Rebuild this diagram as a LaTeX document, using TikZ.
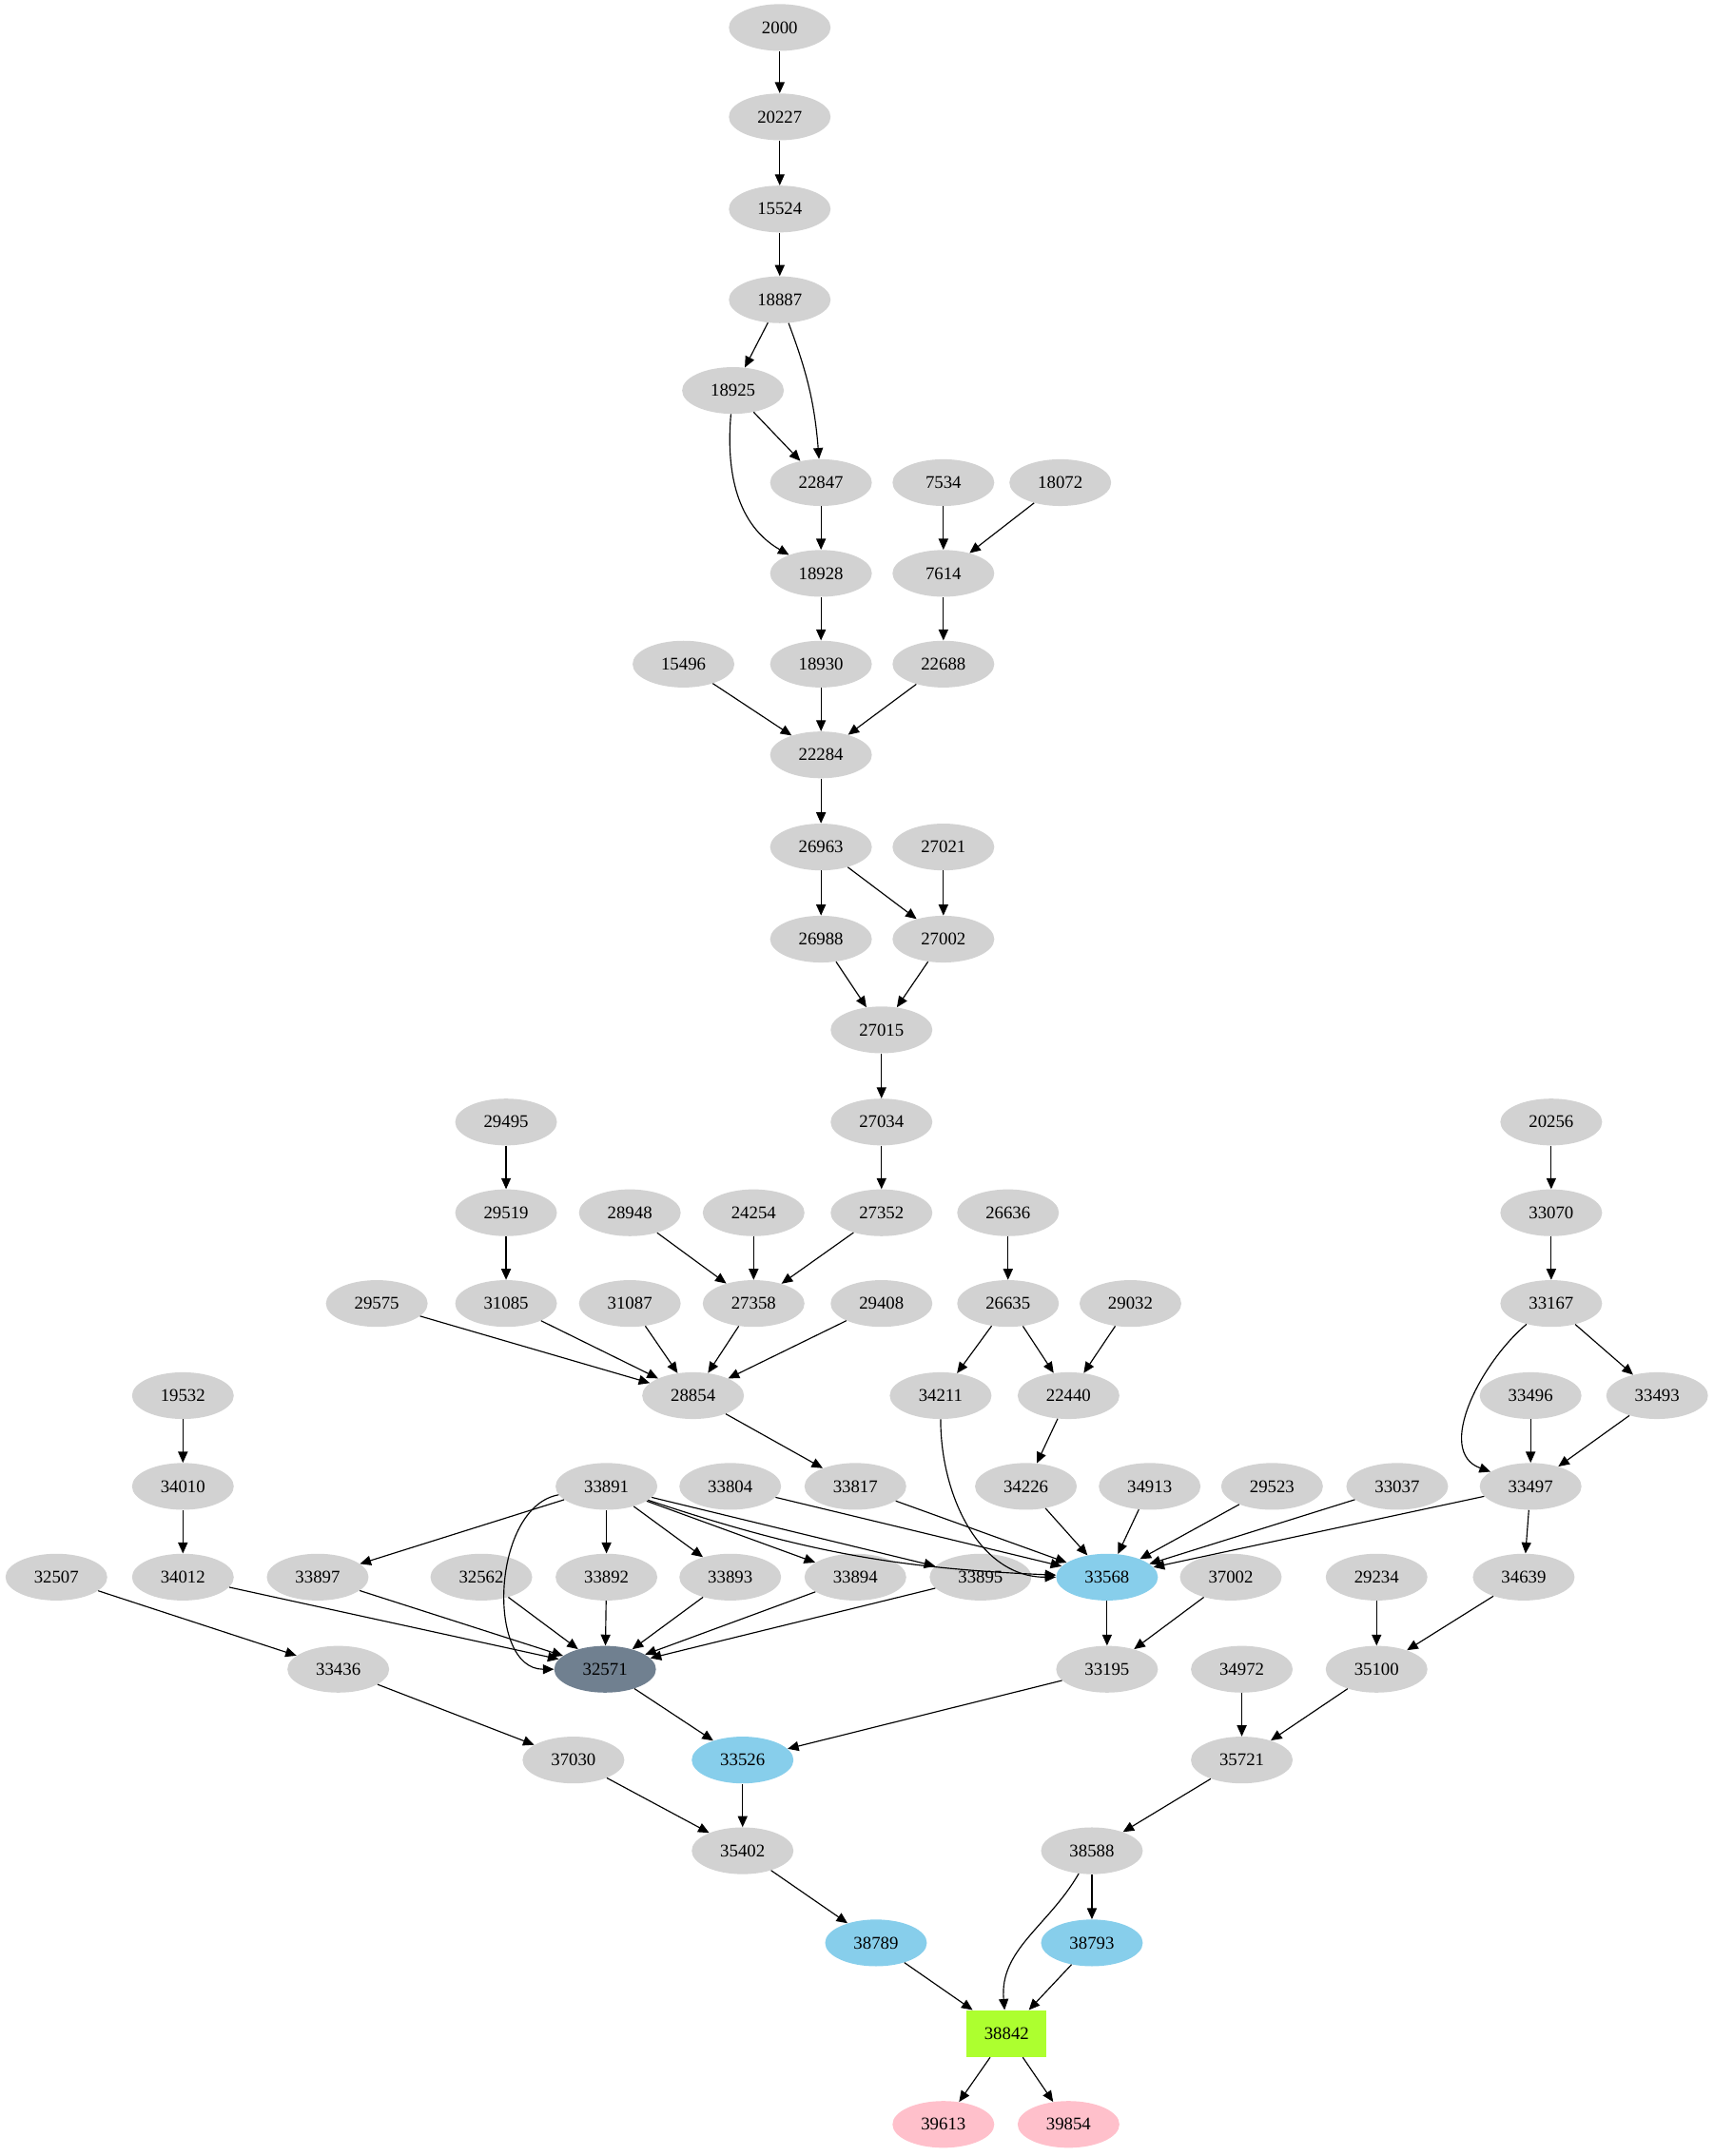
\documentclass[tikz,border=0pt]{standalone}
\usepackage{fontspec}
\setmainfont{Liberation Serif}
\usetikzlibrary{shapes.geometric,arrows.meta}

\begin{document}
\begin{tikzpicture}[
    x=1pt, y=-1pt,
    gnode/.style={ellipse, fill=gray!35, minimum width=74pt, minimum height=34pt, inner sep=0pt, font=\fontsize{13}{13}\selectfont},
    blue/.style={gnode, fill=cyan!45!blue!25!white, fill={rgb,255:red,135;green,206;blue,235}},
    dark/.style={gnode, fill={rgb,255:red,112;green,128;blue,144}},
    pinky/.style={gnode, fill={rgb,255:red,255;green,192;blue,203}},
    target/.style={rectangle, fill={rgb,255:red,173;green,255;blue,47}, minimum width=58pt, minimum height=34pt, inner sep=0pt, font=\fontsize{13}{13}\selectfont},
    arrow/.style={-{Triangle[length=8pt,width=7pt]}, thick, line width=0.8pt}
]
\useasboundingbox (0,0) rectangle (1246,1568);

% plain nodes
\foreach \n/\x/\y in {2000/567/20, 20227/567/85, 15524/567/152, 18887/567/218, 18925/533/284,
    22847/597/351, 7534/686/351, 18072/771/351, 18928/597/417, 7614/686/417,
    15496/497/483, 18930/597/483, 22688/686/483, 22284/597/549, 26963/597/616,
    27021/686/616, 26988/597/683, 27002/686/683, 27015/641/749, 27034/641/816,
    29495/368/816, 20256/1128/816, 29519/368/882, 28948/458/882, 24254/548/882,
    27352/641/882, 26636/733/882, 33070/1128/882, 29575/274/948, 31085/368/948,
    31087/458/948, 27358/548/948, 29408/641/948, 26635/733/948, 29032/822/948,
    33167/1128/948, 19532/133/1015, 28854/504/1015, 34211/684/1015, 22440/777/1015,
    33496/1113/1015, 33493/1205/1015, 34010/133/1081, 33891/441/1081, 33804/531/1081,
    33817/622/1081, 34226/746/1081, 34913/836/1081, 29523/925/1081, 33037/1016/1081,
    33497/1113/1081, 32507/41/1147, 34012/133/1147, 33897/231/1147, 32562/350/1147,
    33892/441/1147, 33893/531/1147, 33894/622/1147, 33895/713/1147, 37002/895/1147,
    29234/1001/1147, 34639/1108/1147, 33436/246/1214, 33195/805/1214, 34972/903/1214,
    35100/1001/1214, 37030/417/1280, 35721/903/1280, 35402/540/1346, 38588/794/1346}
  \node[gnode] (n\n) at (\x,\y) {\n};

% highlighted nodes
\node[blue] (n33568) at (805,1147) {33568};
\node[dark] (n32571) at (440,1214) {32571};
\node[blue] (n33526) at (540,1280) {33526};
\node[blue] (n38789) at (637,1413) {38789};
\node[blue] (n38793) at (794,1413) {38793};
\node[target] (n38842) at (732,1479) {38842};
\node[pinky] (n39613) at (686,1545) {39613};
\node[pinky] (n39854) at (777,1545) {39854};

% straight edges
\foreach \a/\b in {2000/20227, 20227/15524, 15524/18887, 18887/18925, 18925/22847, 22847/18928,
    7534/7614, 18072/7614, 18928/18930, 7614/22688, 15496/22284, 18930/22284, 22688/22284,
    22284/26963, 26963/26988, 26963/27002, 27021/27002, 26988/27015, 27002/27015,
    27015/27034, 27034/27352, 29495/29519, 29519/31085, 28948/27358, 24254/27358,
    27352/27358, 26636/26635, 20256/33070, 33070/33167, 29575/28854, 31085/28854,
    31087/28854, 27358/28854, 29408/28854, 26635/34211, 26635/22440, 29032/22440,
    33167/33493, 33496/33497, 33493/33497, 19532/34010, 34010/34012, 28854/33817,
    22440/34226, 33804/33568, 33817/33568, 34226/33568, 34913/33568, 29523/33568,
    33037/33568, 33497/33568, 33891/33897, 33891/33892, 33891/33893, 33891/33894,
    33891/33895, 33497/34639, 34012/32571, 33897/32571, 32562/32571, 33892/32571,
    33893/32571, 33894/32571, 33895/32571, 32507/33436, 33568/33195, 37002/33195,
    29234/35100, 34639/35100, 33436/37030, 32571/33526, 33195/33526, 34972/35721,
    35100/35721, 37030/35402, 33526/35402, 35721/38588, 35402/38789, 38588/38793,
    38789/38842, 38793/38842, 38842/39613, 38842/39854}
  \draw[arrow] (n\a) -- (n\b);

% curved edges
\draw[arrow] (n18887) to[bend left=8] (n22847);
\draw[arrow] (n18925) to[out=-95,in=150] (n18928);
\draw[arrow] (n33167) to[out=-140,in=160] (n33497);
\draw[arrow] (n34211) to[out=-90,in=180] (n33568);
\draw[arrow] (n33891) to[bend right=8] (n33568);
\draw[arrow] (n33891) to[out=190,in=180] (n32571);
\draw[arrow] (n38588) to[out=-120,in=95] (n38842);

\end{tikzpicture}
\end{document}
